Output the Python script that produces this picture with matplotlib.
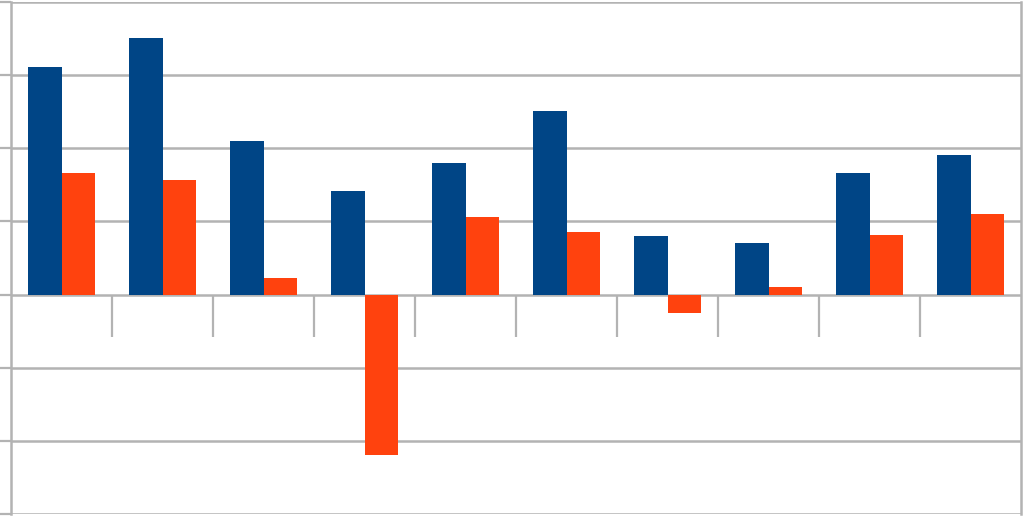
import matplotlib
matplotlib.use("Agg")
import matplotlib.pyplot as plt
import numpy as np

categories = ["1", "2", "3", "4", "5", "6", "7", "8", "9", "10"]
series_a = [3.11, 3.51, 2.10, 1.42, 1.80, 2.51, 0.80, 0.71, 1.66, 1.91]
series_b = [1.66, 1.56, 0.22, -2.20, 1.06, 0.86, -0.25, 0.11, 0.82, 1.10]
y_ticks = [-3, -2, -1, 0, 1, 2, 3, 4]

blue = "#004586"
orange = "#ff420e"
grid = "#b3b3b3"

fig = plt.figure(figsize=(10.24, 5.16), dpi=100)
ax = fig.add_axes([11/1024, 1 - 514/516, 1010/1024, 512/516])

x = np.arange(len(categories))
w = 0.335
ax.bar(x - w/2, series_a, width=w, color=blue, zorder=3)
ax.bar(x + w/2, series_b, width=w, color=orange, zorder=3)

ax.set_xlim(-0.5, len(categories) - 0.5)
ax.set_ylim(-3, 4)
ax.set_yticks(y_ticks)
ax.set_yticklabels([])
ax.yaxis.grid(True, color=grid, linewidth=1.8, zorder=1)
ax.tick_params(axis="y", direction="out", length=8, width=1.6, color=grid)

ax.spines["bottom"].set_position(("data", 0))
ax.spines["bottom"].set_visible(False)
ax.spines["top"].set_visible(False)
ax.spines["left"].set_color(grid)
ax.spines["left"].set_linewidth(1.8)
ax.spines["right"].set_color(grid)
ax.spines["right"].set_linewidth(1.8)

ax.set_xticks(x[:-1] + 0.5)
ax.set_xticklabels([])
ax.tick_params(axis="x", direction="out", length=30, width=1.6, color=grid)

fig.savefig("out.png", dpi=100, facecolor="white")
